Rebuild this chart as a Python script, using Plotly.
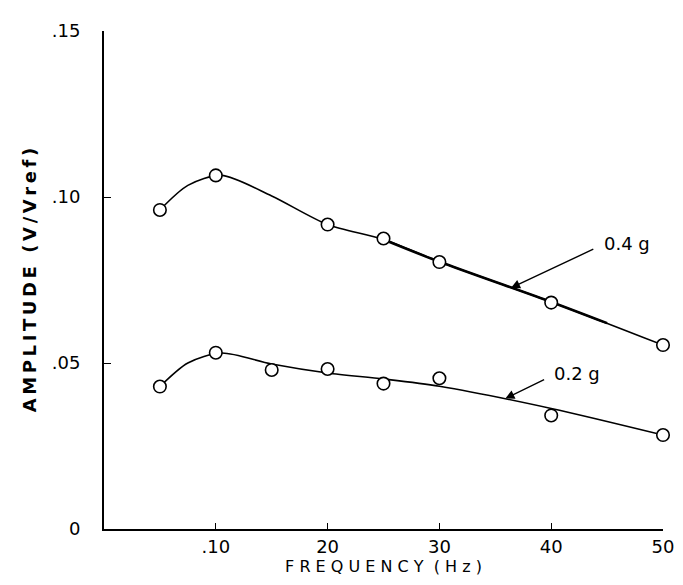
import plotly.graph_objects as go

# Measured points
freq_04 = [5, 10, 20, 25, 30, 40, 50]
amp_04 = [0.0961, 0.1065, 0.0917, 0.0875, 0.0804, 0.0682, 0.0554]
freq_02 = [5, 10, 15, 20, 25, 30, 40, 50]
amp_02 = [0.0429, 0.0531, 0.0479, 0.0482, 0.0438, 0.0454, 0.0342, 0.0283]

# Hand-drawn fitted curves
curve_x_04 = [5, 7.5, 10.5, 15, 20, 25, 30, 40, 50]
curve_y_04 = [0.0961, 0.1035, 0.1065, 0.1003, 0.0917, 0.0872, 0.0805, 0.0684, 0.0554]
curve_x_02 = [5, 7.5, 10.5, 15, 20, 25, 30, 40, 50]
curve_y_02 = [0.0429, 0.0500, 0.0530, 0.0497, 0.0470, 0.0452, 0.0430, 0.0363, 0.0283]
# doubled (heavier) stretch of the 0.4 g curve
heavy_x_04 = [25, 30, 40, 45]
heavy_y_04 = [0.0872, 0.0805, 0.0684, 0.0620]

x_tickvals = [10, 20, 30, 40, 50]
x_ticktext = [".10", "20", "30", "40", "50"]
y_tickvals = [0, 0.05, 0.10, 0.15]
y_ticktext = ["0", ".05", ".10", ".15"]

FONT = "DejaVu Sans"
TS = "\u2009"

fig = go.Figure()
for cx, cy in [(curve_x_04, curve_y_04), (curve_x_02, curve_y_02)]:
    fig.add_trace(go.Scatter(x=cx, y=cy, mode="lines",
                             line=dict(color="black", width=1.6, shape="spline", smoothing=0.8),
                             hoverinfo="skip", showlegend=False, cliponaxis=False))
fig.add_trace(go.Scatter(x=heavy_x_04, y=heavy_y_04, mode="lines",
                         line=dict(color="black", width=2.6, shape="spline", smoothing=0.8),
                         hoverinfo="skip", showlegend=False))
for fx, fy in [(freq_04, amp_04), (freq_02, amp_02)]:
    fig.add_trace(go.Scatter(x=fx, y=fy, mode="markers",
                             marker=dict(symbol="circle", size=12.5, color="white",
                                         line=dict(color="black", width=1.6)),
                             showlegend=False, cliponaxis=False))

# arrows
fig.add_annotation(x=36.4, y=0.0726, ax=43.9, ay=0.0845, xref="x", yref="y",
                   axref="x", ayref="y", text="", showarrow=True,
                   arrowhead=2, arrowsize=1.3, arrowwidth=1.4, arrowcolor="black")
fig.add_annotation(x=35.9, y=0.0393, ax=39.5, ay=0.0452, xref="x", yref="y",
                   axref="x", ayref="y", text="", showarrow=True,
                   arrowhead=2, arrowsize=1.3, arrowwidth=1.4, arrowcolor="black")
fig.add_annotation(x=44.5, y=0.0860, text="0.4 g", showarrow=False, xanchor="left",
                   yanchor="middle", font=dict(family=FONT, size=18, color="black"))
fig.add_annotation(x=40.1, y=0.0467, text="0.2 g", showarrow=False, xanchor="left",
                   yanchor="middle", font=dict(family=FONT, size=18, color="black"))

ytitle = TS.join(list("AMPLITUDE (V/Vref)"))

fig.update_layout(
    width=683, height=585,
    margin=dict(l=96, r=28, t=16, b=64),
    paper_bgcolor="white", plot_bgcolor="white",
    font=dict(family=FONT, color="black"),
    xaxis=dict(range=[0, 50], showgrid=False, zeroline=False,
               showline=True, linecolor="black", linewidth=2,
               ticks="inside", ticklen=6, tickwidth=1.2, tickcolor="black",
               tickvals=x_tickvals, ticktext=x_ticktext,
               tickfont=dict(family=FONT, size=18),
               title=dict(text="F R E Q U E N C Y  ( H z )", font=dict(family=FONT, size=16),
                          standoff=5)),
    yaxis=dict(range=[0, 0.15], showgrid=False, zeroline=False,
               showline=True, linecolor="black", linewidth=2,
               ticks="inside", ticklen=7, tickwidth=1.2, tickcolor="black",
               tickvals=y_tickvals, ticktext=y_ticktext,
               tickfont=dict(family=FONT, size=18),
               ticklabelstandoff=18,
               title=dict(text="<b>" + ytitle + "</b>", font=dict(family=FONT, size=18),
                          standoff=10)),
)

fig.write_html("out.html")
